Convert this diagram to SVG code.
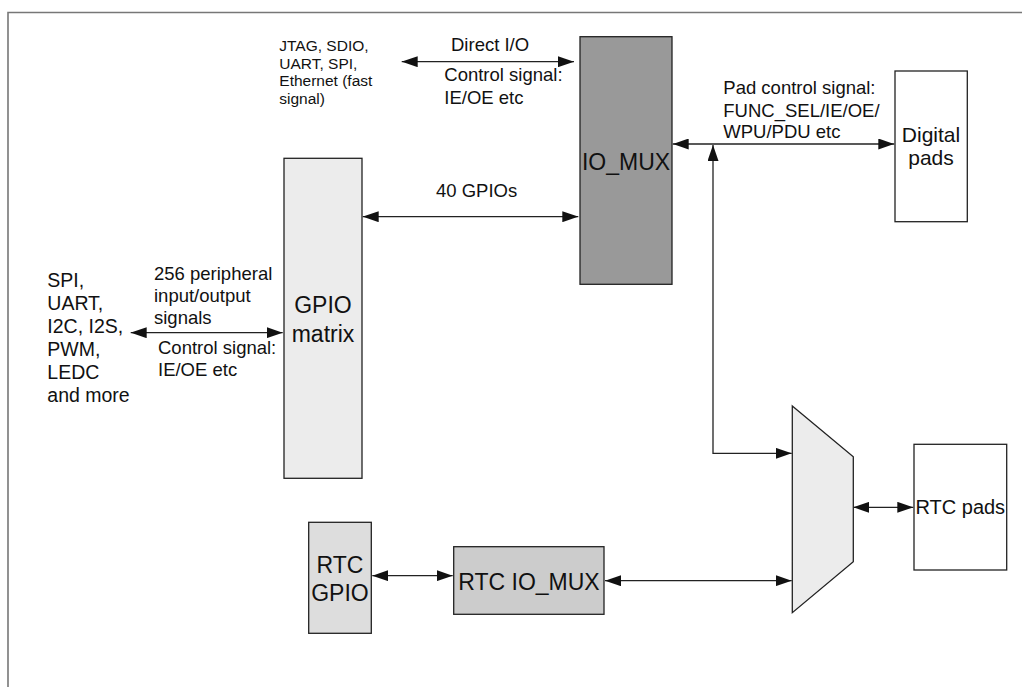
<svg xmlns="http://www.w3.org/2000/svg" width="1022" height="687" viewBox="0 0 1022 687">
<defs>
<marker id="ah" viewBox="0 0 16 11" refX="16" refY="5.5" markerWidth="16" markerHeight="11" markerUnits="userSpaceOnUse" orient="auto-start-reverse">
<path d="M0,0 L16,5.5 L0,11 Z" fill="#111"/>
</marker>
<style>
text{font-family:"Liberation Sans",Arial,sans-serif;fill:#111}
.s{font-size:15.5px}
.m{font-size:18.5px}
.p{font-size:19.5px}
.l{font-size:23px}
.box{stroke:#222;stroke-width:1.3}
.c{fill:none;stroke:#222;stroke-width:1.3;marker-start:url(#ah);marker-end:url(#ah)}
</style>
</defs>
<rect width="1022" height="687" fill="#fff"/>
<path d="M8,687 L8,12.5 L1022,12.5" fill="none" stroke="#777" stroke-width="1.6"/>

<g id="connectors">
<line class="c" x1="401.7" y1="61.7" x2="574" y2="61.7"/>
<line class="c" x1="362.7" y1="216.7" x2="578.3" y2="216.7"/>
<line class="c" x1="130.7" y1="332.7" x2="282.7" y2="332.7"/>
<line class="c" x1="672.7" y1="144" x2="894.3" y2="144"/>
<polyline class="c" points="713,145 713,453.3 791.7,453.3"/>
<line class="c" x1="372.3" y1="575.7" x2="452.7" y2="575.7"/>
<line class="c" x1="605" y1="580.7" x2="791.7" y2="580.7"/>
<line class="c" x1="853.3" y1="507.3" x2="913.3" y2="507.3"/>
</g>

<g id="labels">
<text class="s" x="279.3"><tspan x="279.3" y="51">JTAG, SDIO,</tspan><tspan x="279.3" y="68.5">UART, SPI,</tspan><tspan x="279.3" y="86">Ethernet (fast</tspan><tspan x="279.3" y="103.5">signal)</tspan></text>
<text class="m" x="451" y="50.7">Direct I/O</text>
<text class="m"><tspan x="444.3" y="81">Control signal:</tspan><tspan x="444.3" y="104">IE/OE etc</tspan></text>
<text class="m" x="436" y="197.3">40 GPIOs</text>
<text class="m"><tspan x="723.3" y="94.3">Pad control signal:</tspan><tspan x="723.3" y="116.5">FUNC_SEL/IE/OE/</tspan><tspan x="723.3" y="138.3">WPU/PDU etc</tspan></text>
<text class="m"><tspan x="154" y="280">256 peripheral</tspan><tspan x="154" y="302">input/output</tspan><tspan x="154" y="324">signals</tspan></text>
<text class="m"><tspan x="158" y="354">Control signal:</tspan><tspan x="158" y="375.5">IE/OE etc</tspan></text>
<text class="p"><tspan x="47.3" y="286.7">SPI,</tspan><tspan x="47.3" y="309.8">UART,</tspan><tspan x="47.3" y="332.9">I2C, I2S,</tspan><tspan x="47.3" y="356">PWM,</tspan><tspan x="47.3" y="379.1">LEDC</tspan><tspan x="47.3" y="402.2">and more</tspan></text>
</g>

<g id="gpio-matrix">
<rect class="box" x="284" y="158.3" width="78" height="320" fill="#ececec"/>
<text class="l" text-anchor="middle"><tspan x="323" y="313.3">GPIO</tspan><tspan x="323" y="341.7">matrix</tspan></text>
</g>

<g id="io-mux">
<rect class="box" x="580" y="36.7" width="92" height="247.6" fill="#999"/>
<text class="l" x="626" y="170" text-anchor="middle">IO_MUX</text>
</g>

<g id="digital-pads">
<rect class="box" x="895" y="71" width="72.3" height="150.7" fill="#fff"/>
<text style="font-size:21px" text-anchor="middle"><tspan x="931" y="141.7">Digital</tspan><tspan x="931" y="165">pads</tspan></text>
</g>

<g id="rtc-mux">
<polygon class="box" points="792.3,406 853.3,456.7 853.3,561.7 792.3,612.7" fill="#ececec"/>
</g>

<g id="rtc-pads">
<rect class="box" x="914" y="444.3" width="92.7" height="125.7" fill="#fff"/>
<text style="font-size:20px" x="960.3" y="514" text-anchor="middle">RTC pads</text>
</g>

<g id="rtc-gpio">
<rect class="box" x="308.7" y="522.3" width="62.6" height="111" fill="#ddd"/>
<text class="l" text-anchor="middle"><tspan x="340" y="572.7">RTC</tspan><tspan x="340" y="601">GPIO</tspan></text>
</g>

<g id="rtc-io-mux">
<rect class="box" x="453.7" y="546.7" width="150.3" height="67.6" fill="#ccc"/>
<text class="l" x="529" y="590" text-anchor="middle">RTC IO_MUX</text>
</g>
</svg>
